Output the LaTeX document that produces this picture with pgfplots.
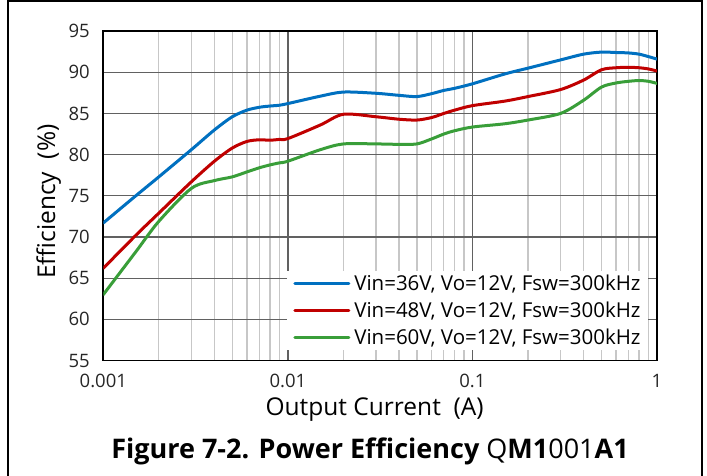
\documentclass[border=0pt]{standalone}
\usepackage{fontspec}
\setmainfont{Open Sans}
\usepackage{pgfplots}
\usepackage{pgfplotstable}
\pgfplotsset{compat=1.18}
\definecolor{cblue}{RGB}{0,112,192}
\definecolor{cred}{RGB}{192,0,0}
\definecolor{cgreen}{RGB}{57,158,57}
\pgfplotstableread{
x      blue   red    green
0.001  71.7   66.2   63.0
0.0015 75.0   70.2   68.2
0.002  77.3   72.9   71.9
0.003  80.6   76.7   75.9
0.004  83.0   79.2   76.85
0.005  84.6   80.8   77.3
0.006  85.4   81.6   77.9
0.007  85.75  81.8   78.4
0.008  85.9   81.75  78.75
0.009  86.0   81.85  79.0
0.01   86.2   81.95  79.2
0.015  87.1   83.6   80.6
0.02   87.6   84.9   81.3
0.03   87.45  84.6   81.3
0.04   87.2   84.3   81.25
0.05   87.05  84.2   81.3
0.06   87.4   84.5   81.9
0.07   87.8   85.0   82.5
0.08   88.05  85.4   82.9
0.1    88.6   85.95  83.35
0.15   89.8   86.5   83.75
0.2    90.5   87.05  84.2
0.3    91.5   87.9   85.0
0.4    92.2   89.05  86.6
0.5    92.45  90.3   88.2
0.6    92.4   90.55  88.7
0.7    92.35  90.6   88.9
0.8    92.2   90.55  89.0
0.9    91.9   90.4   88.9
1      91.6   90.15  88.65
}\datatable
\begin{document}
\begin{tikzpicture}
\path[use as bounding box] (0pt,0pt) rectangle (707pt,475pt);
\draw[line width=2pt] (7.5pt,-5pt) -- (7.5pt,473.5pt) -- (702pt,473.5pt) -- (702pt,-5pt);
\begin{axis}[
  at={(103.3pt,114.5pt)}, anchor=south west,
  scale only axis, width=553.7pt, height=329.4pt,
  xmode=log, xmin=0.001, xmax=1, ymin=55, ymax=95,
  xtick={0.001,0.01,0.1,1}, xticklabels={0.001,0.01,0.1,1},
  minor xtick={0.002,0.003,0.004,0.005,0.006,0.007,0.008,0.009,0.02,0.03,0.04,0.05,0.06,0.07,0.08,0.09,0.2,0.3,0.4,0.5,0.6,0.7,0.8,0.9},
  ytick={55,60,...,95},
  major tick length=0pt, minor tick length=0pt,
  grid=both,
  major grid style={draw=black!62, line width=1.3pt},
  minor grid style={draw=black!22, line width=1.3pt},
  axis line style={black, line width=1.8pt},
  /pgf/number format/assume math mode=true,
  tick label style={font=\fontsize{18.5}{18.5}\selectfont, text=black!85},
  yticklabel style={xshift=-10pt},
  xticklabel style={yshift=-10pt},
  xlabel={Output Current\ \ (A)},
  ylabel={Efficiency\ \ (\%)},
  label style={font=\fontsize{24.5}{24.5}\selectfont},
  xlabel style={at={(axis description cs:0.49,-0.1655)}, anchor=base},
  ylabel style={at={(axis description cs:-0.0872,0.482)}, anchor=base},
  legend style={at={(axis description cs:0.332,0.2717)}, anchor=north west,
    draw=none, fill=white, font=\fontsize{20.5}{20.5}\selectfont,
    inner xsep=6pt, inner ysep=3pt, row sep=8pt,
    nodes={inner sep=1pt},
    /tikz/every odd column/.append style={column sep=3pt}},
  legend cell align=left,
  legend image code/.code={\draw[#1, line width=3pt, line cap=round] (0pt,0pt) -- (54pt,0pt);},
  every axis plot/.append style={line width=3pt, line cap=round, line join=round, smooth, tension=0.5},
]
\addplot[cblue] table[x=x, y=blue] {\datatable};
\addlegendentry{Vin=36V, Vo=12V, Fsw=300kHz}
\addplot[cred] table[x=x, y=red] {\datatable};
\addlegendentry{Vin=48V, Vo=12V, Fsw=300kHz}
\addplot[cgreen] table[x=x, y=green] {\datatable};
\addlegendentry{Vin=60V, Vo=12V, Fsw=300kHz}
\end{axis}
\node[anchor=base, font=\fontsize{27}{27}\selectfont] at (370pt,17pt)
  {\textbf{Figure 7-2. Power Efficiency} Q\textbf{M1}001\textbf{A1}};
\end{tikzpicture}
\end{document}
